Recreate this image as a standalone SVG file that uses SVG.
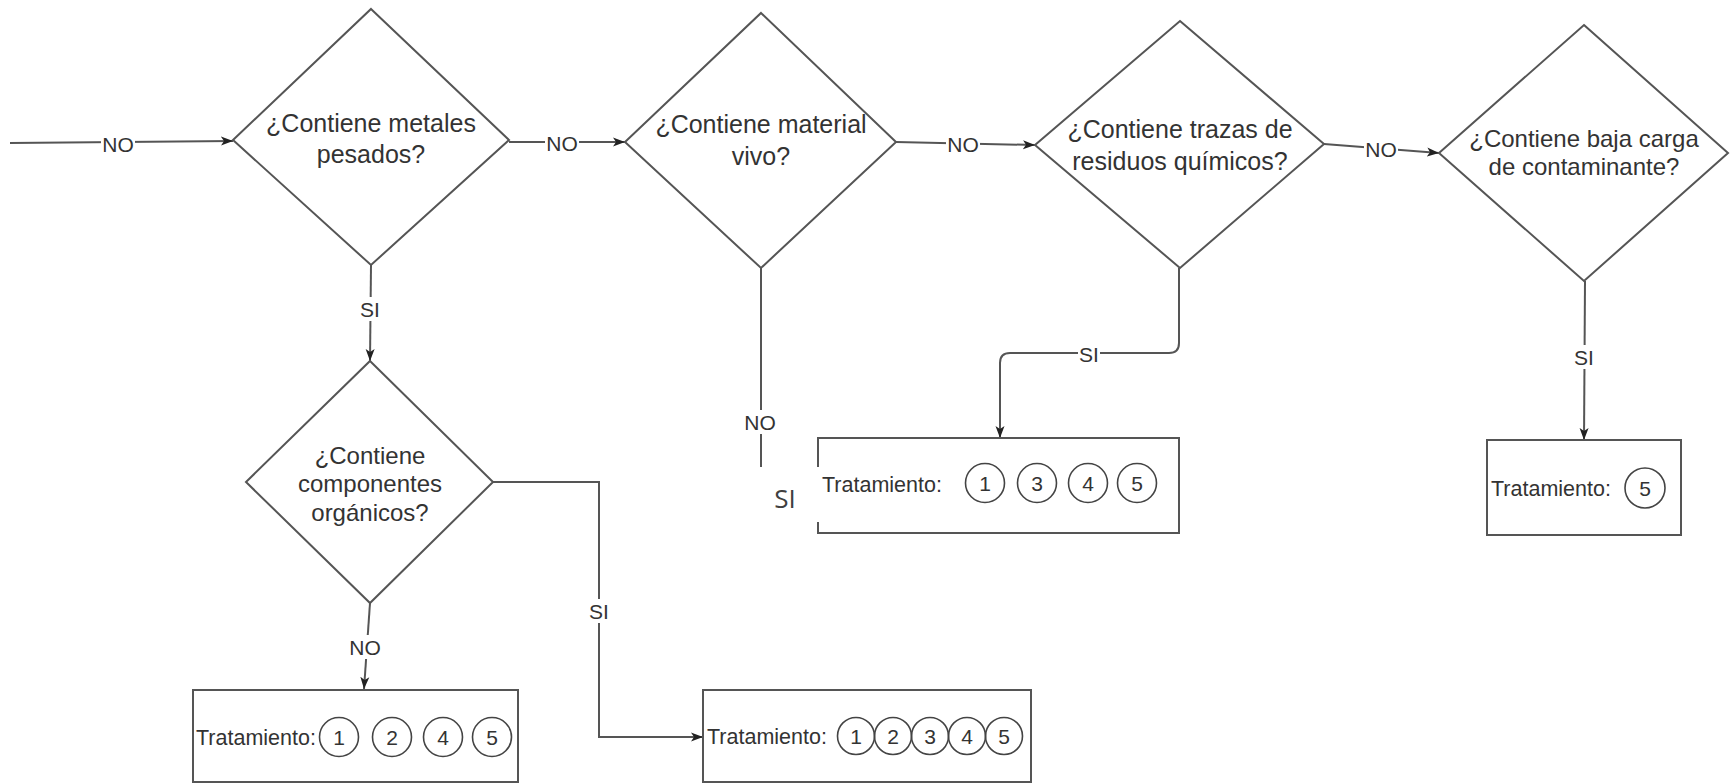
<svg xmlns="http://www.w3.org/2000/svg" width="1730" height="784" viewBox="0 0 1730 784">
  <style>
    .shape{fill:#fff;stroke:#555;stroke-width:2}
    .edge{fill:none;stroke:#555;stroke-width:2}
    .lbg{fill:#fff}
    .q{font-family:"Liberation Sans",Arial,sans-serif;font-size:25px;fill:#333;text-anchor:middle}
    .q24{font-size:24px}
    .lbl{font-family:"Liberation Sans",Arial,sans-serif;font-size:21px;fill:#333;text-anchor:middle;dominant-baseline:central}
    .tr{font-family:"Liberation Sans",Arial,sans-serif;font-size:21.5px;fill:#333}
    .num{font-family:"Liberation Sans",Arial,sans-serif;font-size:21px;fill:#333;text-anchor:middle}
    .ring{fill:none;stroke:#444;stroke-width:1.6}
    .note{font-family:"Open Sans","Liberation Sans",sans-serif;font-size:26px;fill:#404040;text-anchor:middle}
  </style>
  <defs>
    <marker id="arrow" viewBox="0 0 12 10" markerWidth="12" markerHeight="10" refX="12" refY="5" orient="auto" markerUnits="userSpaceOnUse">
      <path d="M0,0.5 L12,5 L0,9.5 L3,5 z" fill="#222"/>
    </marker>
  </defs>

  <!-- connectors, each label on a white plate that breaks the line -->
  <g id="connectors">
    <path class="edge" d="M10,143 L233,141" marker-end="url(#arrow)"/>
    <rect class="lbg" x="101" y="133" width="34" height="22"/>
    <text class="lbl" x="118" y="144">NO</text>

    <path class="edge" d="M509,142 L625,142" marker-end="url(#arrow)"/>
    <rect class="lbg" x="545" y="132" width="34" height="22"/>
    <text class="lbl" x="562" y="143">NO</text>

    <path class="edge" d="M896,142 L1035,145" marker-end="url(#arrow)"/>
    <rect class="lbg" x="946" y="133" width="34" height="22"/>
    <text class="lbl" x="963" y="144">NO</text>

    <path class="edge" d="M1324,144 L1439,153" marker-end="url(#arrow)"/>
    <rect class="lbg" x="1364" y="138" width="34" height="22"/>
    <text class="lbl" x="1381" y="149">NO</text>

    <path class="edge" d="M371,265 L370,361" marker-end="url(#arrow)"/>
    <rect class="lbg" x="359" y="297" width="22" height="24"/>
    <text class="lbl" x="370" y="309">SI</text>

    <path class="edge" d="M761,268 V467"/>
    <rect class="lbg" x="743" y="410" width="34" height="24"/>
    <text class="lbl" x="760" y="422">NO</text>

    <path class="edge" d="M1179,268 V343 Q1179,353 1169,353 H1010 Q1000,353 1000,363 V438" marker-end="url(#arrow)"/>
    <rect class="lbg" x="1078" y="342" width="22" height="24"/>
    <text class="lbl" x="1089" y="354">SI</text>

    <path class="edge" d="M1585,281 L1584,440" marker-end="url(#arrow)"/>
    <rect class="lbg" x="1573" y="345" width="22" height="24"/>
    <text class="lbl" x="1584" y="357">SI</text>

    <path class="edge" d="M370,603 L364,689" marker-end="url(#arrow)"/>
    <rect class="lbg" x="348" y="635" width="34" height="24"/>
    <text class="lbl" x="365" y="647">NO</text>

    <path class="edge" d="M493,482 H599 V737 H703" marker-end="url(#arrow)"/>
    <rect class="lbg" x="588" y="599" width="22" height="24"/>
    <text class="lbl" x="599" y="611">SI</text>
  </g>

  <!-- decision: heavy metals -->
  <g id="q-metales">
    <path class="shape" d="M371,9 L509,140 L371,265 L233,140 Z"/>
    <text class="q" x="371" y="132">¿Contiene metales</text>
    <text class="q" x="371" y="163">pesados?</text>
  </g>

  <!-- decision: living material -->
  <g id="q-vivo">
    <path class="shape" d="M761,13 L896,142 L761,268 L625,142 Z"/>
    <text class="q" x="761" y="133">¿Contiene material</text>
    <text class="q" x="761" y="165">vivo?</text>
  </g>

  <!-- decision: chemical traces -->
  <g id="q-quimicos">
    <path class="shape" d="M1180,21 L1324,144 L1180,268 L1035,145 Z"/>
    <text class="q" x="1180" y="138">¿Contiene trazas de</text>
    <text class="q" x="1180" y="170">residuos químicos?</text>
  </g>

  <!-- decision: low contaminant load -->
  <g id="q-baja-carga">
    <path class="shape" d="M1584,25 L1728,153 L1584,281 L1439,153 Z"/>
    <text class="q q24" x="1584" y="147">¿Contiene baja carga</text>
    <text class="q q24" x="1584" y="175">de contaminante?</text>
  </g>

  <!-- decision: organic components -->
  <g id="q-organicos">
    <path class="shape" d="M370,361 L493,482 L370,603 L246,482 Z"/>
    <text class="q q24" x="370" y="464">¿Contiene</text>
    <text class="q q24" x="370" y="492">componentes</text>
    <text class="q q24" x="370" y="521">orgánicos?</text>
  </g>

  <!-- treatment 1 2 4 5 -->
  <g id="t-1245">
    <rect class="shape" x="193" y="690" width="325" height="92"/>
    <text class="tr" x="196" y="745">Tratamiento:</text>
    <circle class="ring" cx="339" cy="737" r="19.5"/><text class="num" x="339" y="745">1</text>
    <circle class="ring" cx="392" cy="737" r="19.5"/><text class="num" x="392" y="745">2</text>
    <circle class="ring" cx="443" cy="737" r="19.5"/><text class="num" x="443" y="745">4</text>
    <circle class="ring" cx="492" cy="737" r="19.5"/><text class="num" x="492" y="745">5</text>
  </g>

  <!-- treatment 1 2 3 4 5 -->
  <g id="t-12345">
    <rect class="shape" x="703" y="690" width="328" height="92"/>
    <text class="tr" x="707" y="744">Tratamiento:</text>
    <circle class="ring" cx="856" cy="736" r="18.5"/><text class="num" x="856" y="744">1</text>
    <circle class="ring" cx="893" cy="736" r="18.5"/><text class="num" x="893" y="744">2</text>
    <circle class="ring" cx="930" cy="736" r="18.5"/><text class="num" x="930" y="744">3</text>
    <circle class="ring" cx="967" cy="736" r="18.5"/><text class="num" x="967" y="744">4</text>
    <circle class="ring" cx="1004" cy="736" r="18.5"/><text class="num" x="1004" y="744">5</text>
  </g>

  <!-- treatment 1 3 4 5 -->
  <g id="t-1345">
    <rect class="shape" x="818" y="438" width="361" height="95"/>
    <text class="tr" x="822" y="492">Tratamiento:</text>
    <circle class="ring" cx="985" cy="483" r="19.5"/><text class="num" x="985" y="491">1</text>
    <circle class="ring" cx="1037" cy="483" r="19.5"/><text class="num" x="1037" y="491">3</text>
    <circle class="ring" cx="1088" cy="483" r="19.5"/><text class="num" x="1088" y="491">4</text>
    <circle class="ring" cx="1137" cy="483" r="19.5"/><text class="num" x="1137" y="491">5</text>
  </g>

  <!-- treatment 5 -->
  <g id="t-5">
    <rect class="shape" x="1487" y="440" width="194" height="95"/>
    <text class="tr" x="1491" y="496">Tratamiento:</text>
    <circle class="ring" cx="1645" cy="488" r="20"/><text class="num" x="1645" y="496">5</text>
  </g>

  <!-- answer tag laid over the living-material branch -->
  <g id="tag-si">
    <rect x="756" y="467" width="64" height="55" fill="#fff"/>
    <text class="note" x="785" y="508">SI</text>
  </g>
</svg>
